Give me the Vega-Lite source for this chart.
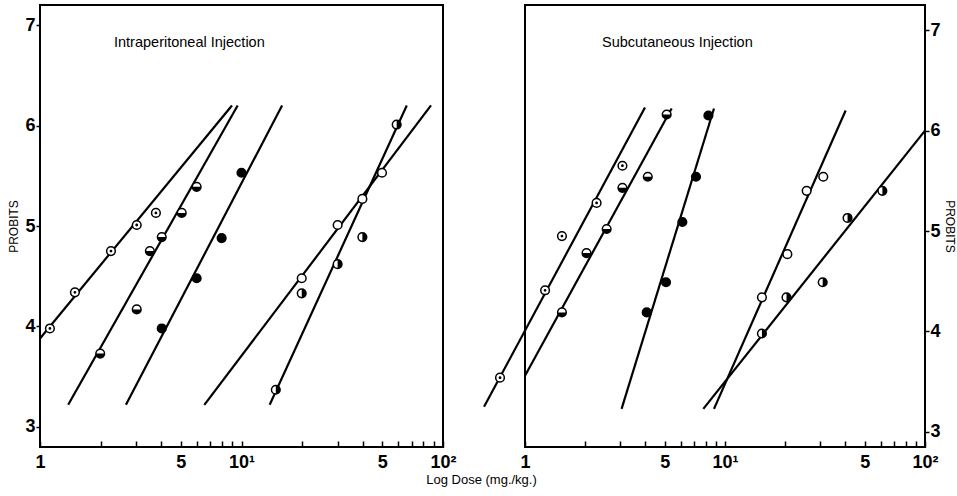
{
  "$schema": "https://vega.github.io/schema/vega-lite/v6.json",
  "background": "white",
  "padding": {"left": 6, "top": 4, "right": 0, "bottom": 4},
  "config": {
    "font": "Liberation Sans",
    "view": {"stroke": "black", "strokeWidth": 2},
    "axis": {"grid": false, "domain": false, "tickColor": "black", "labelColor": "black", "titleColor": "black", "tickWidth": 1.5}
  },
  "datasets": {
    "points": [
      {"panel": "IP", "series": "A", "kind": "dot", "dose": 1.12, "probit": 3.98},
      {"panel": "IP", "series": "A", "kind": "dot", "dose": 1.49, "probit": 4.34},
      {"panel": "IP", "series": "A", "kind": "dot", "dose": 2.25, "probit": 4.75},
      {"panel": "IP", "series": "A", "kind": "dot", "dose": 3.02, "probit": 5.01},
      {"panel": "IP", "series": "A", "kind": "dot", "dose": 3.76, "probit": 5.13},
      {"panel": "IP", "series": "B", "kind": "bottom", "dose": 1.99, "probit": 3.73},
      {"panel": "IP", "series": "B", "kind": "bottom", "dose": 3.02, "probit": 4.17},
      {"panel": "IP", "series": "B", "kind": "bottom", "dose": 3.51, "probit": 4.75},
      {"panel": "IP", "series": "B", "kind": "bottom", "dose": 4.02, "probit": 4.89},
      {"panel": "IP", "series": "B", "kind": "bottom", "dose": 5.05, "probit": 5.13},
      {"panel": "IP", "series": "B", "kind": "bottom", "dose": 5.99, "probit": 5.39},
      {"panel": "IP", "series": "C", "kind": "full", "dose": 4.02, "probit": 3.98},
      {"panel": "IP", "series": "C", "kind": "full", "dose": 5.99, "probit": 4.48},
      {"panel": "IP", "series": "C", "kind": "full", "dose": 7.97, "probit": 4.88},
      {"panel": "IP", "series": "C", "kind": "full", "dose": 10.0, "probit": 5.53},
      {"panel": "IP", "series": "D", "kind": "open", "dose": 19.9, "probit": 4.48},
      {"panel": "IP", "series": "D", "kind": "open", "dose": 30.0, "probit": 5.01},
      {"panel": "IP", "series": "D", "kind": "open", "dose": 39.8, "probit": 5.27},
      {"panel": "IP", "series": "D", "kind": "open", "dose": 49.8, "probit": 5.53},
      {"panel": "IP", "series": "E", "kind": "right", "dose": 14.8, "probit": 3.37},
      {"panel": "IP", "series": "E", "kind": "right", "dose": 19.9, "probit": 4.33},
      {"panel": "IP", "series": "E", "kind": "right", "dose": 30.0, "probit": 4.62},
      {"panel": "IP", "series": "E", "kind": "right", "dose": 39.8, "probit": 4.89},
      {"panel": "IP", "series": "E", "kind": "right", "dose": 58.9, "probit": 6.01},
      {"panel": "SC", "series": "F", "kind": "dot", "dose": 0.75, "probit": 3.54},
      {"panel": "SC", "series": "F", "kind": "dot", "dose": 1.26, "probit": 4.41},
      {"panel": "SC", "series": "F", "kind": "dot", "dose": 1.53, "probit": 4.95},
      {"panel": "SC", "series": "F", "kind": "dot", "dose": 2.28, "probit": 5.28},
      {"panel": "SC", "series": "F", "kind": "dot", "dose": 3.07, "probit": 5.65},
      {"panel": "SC", "series": "G", "kind": "bottom", "dose": 1.53, "probit": 4.19},
      {"panel": "SC", "series": "G", "kind": "bottom", "dose": 2.03, "probit": 4.78},
      {"panel": "SC", "series": "G", "kind": "bottom", "dose": 2.56, "probit": 5.02},
      {"panel": "SC", "series": "G", "kind": "bottom", "dose": 3.07, "probit": 5.43},
      {"panel": "SC", "series": "G", "kind": "bottom", "dose": 4.11, "probit": 5.54},
      {"panel": "SC", "series": "G", "kind": "bottom", "dose": 5.11, "probit": 6.16},
      {"panel": "SC", "series": "H", "kind": "full", "dose": 4.06, "probit": 4.19},
      {"panel": "SC", "series": "H", "kind": "full", "dose": 5.07, "probit": 4.49},
      {"panel": "SC", "series": "H", "kind": "full", "dose": 6.12, "probit": 5.09},
      {"panel": "SC", "series": "H", "kind": "full", "dose": 7.16, "probit": 5.54},
      {"panel": "SC", "series": "H", "kind": "full", "dose": 8.26, "probit": 6.15},
      {"panel": "SC", "series": "I", "kind": "open", "dose": 15.3, "probit": 4.34},
      {"panel": "SC", "series": "I", "kind": "open", "dose": 20.5, "probit": 4.77},
      {"panel": "SC", "series": "I", "kind": "open", "dose": 25.6, "probit": 5.40},
      {"panel": "SC", "series": "I", "kind": "open", "dose": 31.0, "probit": 5.54},
      {"panel": "SC", "series": "J", "kind": "right", "dose": 15.3, "probit": 3.98},
      {"panel": "SC", "series": "J", "kind": "right", "dose": 20.3, "probit": 4.34},
      {"panel": "SC", "series": "J", "kind": "right", "dose": 30.8, "probit": 4.49},
      {"panel": "SC", "series": "J", "kind": "right", "dose": 41.0, "probit": 5.13},
      {"panel": "SC", "series": "J", "kind": "right", "dose": 61.2, "probit": 5.40}
    ],
    "lines": [
      {"panel": "IP", "series": "A", "dose": 1.0, "probit": 3.88, "dose2": 8.97, "probit2": 6.2},
      {"panel": "IP", "series": "B", "dose": 1.38, "probit": 3.22, "dose2": 9.57, "probit2": 6.2},
      {"panel": "IP", "series": "C", "dose": 2.67, "probit": 3.22, "dose2": 15.9, "probit2": 6.2},
      {"panel": "IP", "series": "D", "dose": 6.54, "probit": 3.22, "dose2": 87.2, "probit2": 6.2},
      {"panel": "IP", "series": "E", "dose": 13.8, "probit": 3.22, "dose2": 66.1, "probit2": 6.2},
      {"panel": "SC", "series": "F", "dose": 0.624, "probit": 3.25, "dose2": 3.98, "probit2": 6.23},
      {"panel": "SC", "series": "G", "dose": 1.0, "probit": 3.56, "dose2": 5.41, "probit2": 6.22},
      {"panel": "SC", "series": "H", "dose": 3.04, "probit": 3.23, "dose2": 8.81, "probit2": 6.22},
      {"panel": "SC", "series": "I", "dose": 8.81, "probit": 3.23, "dose2": 40.1, "probit2": 6.2},
      {"panel": "SC", "series": "J", "dose": 7.79, "probit": 3.23, "dose2": 100, "probit2": 6.0}
    ]
  },
  "title": {"text": "Log Dose (mg./kg.)", "orient": "bottom", "anchor": "middle", "fontSize": 13, "fontWeight": "normal", "offset": 2, "color": "black"},
  "spacing": 82,
  "bounds": "flush",
  "hconcat": [
    {
      "width": 403,
      "height": 442,
      "title": {"text": "Intraperitoneal Injection", "anchor": "start", "frame": "group", "dx": 74, "dy": 52, "offset": 0, "baseline": "middle", "fontSize": 14.5, "fontWeight": "normal", "color": "black"},
      "encoding": {
        "x": {"field": "dose", "type": "quantitative",
              "scale": {"type": "log", "domain": [1, 100], "nice": false},
              "axis": {"title": null, "values": [1,2,3,4,5,6,7,8,9,10,20,30,40,50,60,70,80,90,100],
                       "labelExpr": "datum.value == 1 ? '1' : datum.value == 5 ? '5' : datum.value == 10 ? '10¹' : datum.value == 50 ? '5' : datum.value == 100 ? '10²' : ''",
                       "tickSize": -6, "labelPadding": 12, "labelFontSize": 18, "labelFontWeight": "bold", "labelFlush": false, "labelOverlap": false}},
        "y": {"field": "probit", "type": "quantitative",
              "scale": {"domain": [2.8, 7.2], "nice": false, "zero": false},
              "axis": {"title": "PROBITS", "values": [3,4,5,6,7], "titleFontSize": 12, "titleFontWeight": "normal", "labelFontSize": 18, "labelFontWeight": "bold", "tickSize": 4, "labelPadding": 1, "titlePadding": 4}}
      },
      "layer": [
        {"data": {"name": "lines"}, "transform": [{"filter": "datum.panel == 'IP'"}],
         "mark": {"type": "rule", "color": "black", "strokeWidth": 2.2},
         "encoding": {"x2": {"field": "dose2"}, "y2": {"field": "probit2"}}},
        {"data": {"name": "points"}, "transform": [{"filter": "datum.panel == 'IP'"}],
         "mark": {"type": "point", "shape": "circle", "size": 75, "filled": true, "fill": "white", "stroke": "black", "strokeWidth": 1.5, "opacity": 1}},
        {"data": {"name": "points"}, "transform": [{"filter": "datum.panel == 'IP' && datum.kind != 'open'"}],
         "mark": {"type": "point", "size": 75, "filled": true, "fill": "black", "strokeWidth": 0, "opacity": 1},
         "encoding": {"shape": {"field": "kind", "type": "nominal", "legend": null,
            "scale": {"domain": ["dot", "bottom", "full", "right"],
                      "range": ["M -0.32 0 A 0.32 0.32 0 1 0 0.32 0 A 0.32 0.32 0 1 0 -0.32 0 Z", "M -1 0 A 1 1 0 0 0 1 0 Z", "circle", "M 0 -1 A 1 1 0 0 1 0 1 Z"]}}}}
      ]
    },
    {
      "width": 400,
      "height": 442,
      "title": {"text": "Subcutaneous Injection", "anchor": "start", "frame": "group", "dx": 77, "dy": 52, "offset": 0, "baseline": "middle", "fontSize": 14.5, "fontWeight": "normal", "color": "black"},
      "encoding": {
        "x": {"field": "dose", "type": "quantitative",
              "scale": {"type": "log", "domain": [1, 100], "nice": false},
              "axis": {"title": null, "values": [1,2,3,4,5,6,7,8,9,10,20,30,40,50,60,70,80,90,100],
                       "labelExpr": "datum.value == 1 ? '1' : datum.value == 5 ? '5' : datum.value == 10 ? '10¹' : datum.value == 50 ? '5' : datum.value == 100 ? '10²' : ''",
                       "tickSize": -6, "labelPadding": 12, "labelFontSize": 18, "labelFontWeight": "bold", "labelFlush": false, "labelOverlap": false}},
        "y": {"field": "probit", "type": "quantitative",
              "scale": {"domain": [2.85, 7.25], "nice": false, "zero": false},
              "axis": {"orient": "right", "title": "PROBITS", "values": [3,4,5,6,7], "titleFontSize": 12, "titleFontWeight": "normal", "labelFontSize": 18, "labelFontWeight": "bold", "tickSize": 4, "labelPadding": 1, "titlePadding": 2}}
      },
      "layer": [
        {"data": {"name": "lines"}, "transform": [{"filter": "datum.panel == 'SC'"}],
         "mark": {"type": "rule", "color": "black", "strokeWidth": 2.2},
         "encoding": {"x2": {"field": "dose2"}, "y2": {"field": "probit2"}}},
        {"data": {"name": "points"}, "transform": [{"filter": "datum.panel == 'SC'"}],
         "mark": {"type": "point", "shape": "circle", "size": 75, "filled": true, "fill": "white", "stroke": "black", "strokeWidth": 1.5, "opacity": 1}},
        {"data": {"name": "points"}, "transform": [{"filter": "datum.panel == 'SC' && datum.kind != 'open'"}],
         "mark": {"type": "point", "size": 75, "filled": true, "fill": "black", "strokeWidth": 0, "opacity": 1},
         "encoding": {"shape": {"field": "kind", "type": "nominal", "legend": null,
            "scale": {"domain": ["dot", "bottom", "full", "right"],
                      "range": ["M -0.32 0 A 0.32 0.32 0 1 0 0.32 0 A 0.32 0.32 0 1 0 -0.32 0 Z", "M -1 0 A 1 1 0 0 0 1 0 Z", "circle", "M 0 -1 A 1 1 0 0 1 0 1 Z"]}}}}
      ]
    }
  ]
}
